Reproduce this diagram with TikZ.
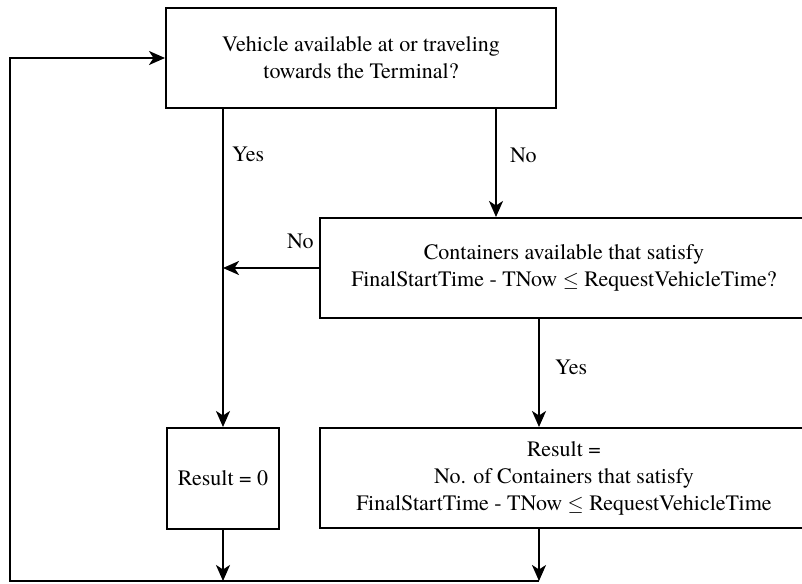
\documentclass[tikz,border=0pt]{standalone}
\usepackage{fontspec}
\setmainfont{texgyretermes}[Extension=.otf,UprightFont=*-regular,
  BoldFont=*-bold,ItalicFont=*-italic,BoldItalicFont=*-bolditalic]
\usetikzlibrary{arrows.meta,calc}
\begin{document}
\begin{tikzpicture}[x=1pt,y=-1pt,
  box/.style={draw,line width=2pt,rectangle,align=center,inner sep=0pt,
    font=\fontsize{22}{27}\selectfont},
  lbl/.style={font=\fontsize{22}{27}\selectfont,inner sep=0pt},
  link/.style={line width=2pt},
  arr/.style={link,-{Stealth[length=16pt,width=14pt,inset=4.5pt]}}]
\useasboundingbox (0,0) rectangle (802,583);
\clip (0,0) rectangle (802,583);
\fill[white] (0,0) rectangle (802,583);

% decision and result boxes
\node[box,minimum width=390pt,minimum height=100pt] (top) at (361,58)
  {Vehicle available at or traveling\\towards the Terminal?};
\node[box,minimum width=488pt,minimum height=100pt] (mid) at (564,268)
  {Containers available that satisfy\\FinalStartTime - TNow $\leq$ RequestVehicleTime?};
\node[box,minimum width=112pt,minimum height=101pt] (res0) at (223,478.5)
  {Result = 0};
\node[box,minimum width=488pt,minimum height=100pt] (res) at (564,478)
  {Result =\\No. of Containers that satisfy\\FinalStartTime - TNow $\leq$ RequestVehicleTime};

% connector anchor points
\coordinate (tno) at ($(top.south)+(135,0)$);
\coordinate (myes) at ($(mid.south)+(-25,0)$);
\coordinate (ryes) at ($(res.south)+(-25,0)$);
\coordinate (bot) at (10,581);

% connectors
\draw[arr] (res0.north |- top.south) -- (res0.north);
\draw[arr] (tno) -- (tno |- mid.north);
\draw[arr] (mid.west) -- (res0.north |- mid.west);
\draw[arr] (myes) -- (myes |- res.north);
\draw[arr] (res0.south) -- (res0.south |- bot);
\draw[arr] (ryes) -- (ryes |- bot);
\draw[arr] (ryes |- bot) -- (bot) -- (bot |- top.west) -- (top.west);

% branch labels
\node[lbl,anchor=west] (ly1) at (232,154) {Yes};
\node[lbl,anchor=west] (ln1) at (510,155) {No};
\node[lbl,anchor=west] (ln2) at (287,241) {No};
\node[lbl,anchor=west] (ly2) at (555,367) {Yes};
\end{tikzpicture}
\end{document}
